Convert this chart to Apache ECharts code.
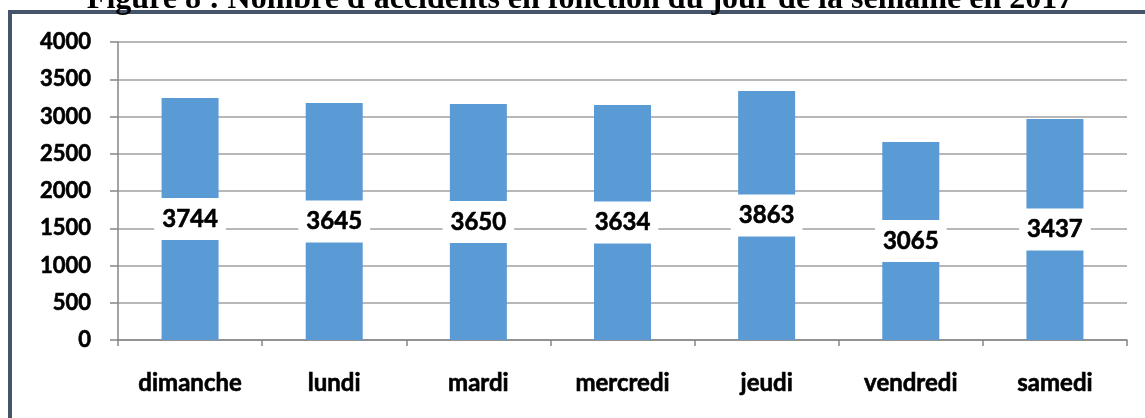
<!DOCTYPE html>
<html>
<head>
<meta charset="utf-8">
<script src="https://cdn.jsdelivr.net/npm/echarts@6/dist/echarts.min.js"></script>
<style>
    html, body { margin: 0; padding: 0; background: #fff; }
    #main { width: 1145px; height: 418px; }
</style>
</head>
<body>
<div id="main"></div>
<script>
    // jours de la semaine
    var jours = ['dimanche', 'lundi', 'mardi', 'mercredi', 'jeudi', 'vendredi', 'samedi'];
    var hauteurs = [3248, 3181, 3168, 3154, 3342, 2658, 2966];
    // étiquettes affichées sur les barres
    var etiquettes = [3744, 3645, 3650, 3634, 3863, 3065, 3437];
    var yTicks = [0, 500, 1000, 1500, 2000, 2500, 3000, 3500, 4000];

    var myChart = echarts.init(document.getElementById('main'));
    myChart.setOption({
        animation: false,
        graphic: [
            {
                type: 'rect',
                shape: {x: 10, y: 12, width: 1300, height: 600},
                style: {fill: 'none', stroke: '#44546a', lineWidth: 4},
                z: 1
            },
            {
                type: 'text',
                x: 580,
                y: 16,
                style: {
                    text: "Figure 8 : Nombre d'accidents en fonction du jour de la semaine en 2017",
                    font: 'bold 32px "Liberation Serif"',
                    fill: '#000',
                    textAlign: 'center',
                    textVerticalAlign: 'bottom'
                },
                z: 2
            }
        ],
        grid: {left: 118, right: 18, top: 42, bottom: 78},
        xAxis: {
            type: 'category',
            data: jours,
            axisLine: {lineStyle: {color: '#868686', width: 1.5}},
            axisTick: {show: true, length: 6, lineStyle: {color: '#868686', width: 1.5}},
            axisLabel: {
                margin: 31,
                color: '#000',
                fontFamily: 'Lato',
                fontWeight: 'bold',
                fontSize: 24,
                textBorderColor: '#000',
                textBorderWidth: 0.6
            }
        },
        yAxis: {
            type: 'value',
            min: 0,
            max: 4000,
            interval: 500,
            axisLine: {show: true, lineStyle: {color: '#868686', width: 1.5}},
            axisTick: {show: true, length: 8, lineStyle: {color: '#868686', width: 1.5}},
            splitLine: {lineStyle: {color: '#a0a0a0', width: 1.5}},
            axisLabel: {
                margin: 27,
                color: '#000',
                fontFamily: 'Lato',
                fontWeight: 'bold',
                fontSize: 22,
                textBorderColor: '#000',
                textBorderWidth: 0.6,
                formatter: function (v) {
                    return yTicks.indexOf(v) >= 0 ? String(v) : '';
                }
            }
        },
        series: [{
            type: 'bar',
            data: hauteurs,
            barWidth: 57,
            itemStyle: {color: '#5b9bd5'},
            label: {
                show: true,
                position: 'inside',
                formatter: function (p) {
                    return String(etiquettes[p.dataIndex]);
                },
                color: '#000',
                fontFamily: 'Lato',
                fontWeight: 'bold',
                fontSize: 24,
                textBorderColor: '#000',
                textBorderWidth: 0.6,
                backgroundColor: '#fff',
                padding: [9, 8, 9, 8]
            }
        }]
    });
</script>
</body>
</html>
